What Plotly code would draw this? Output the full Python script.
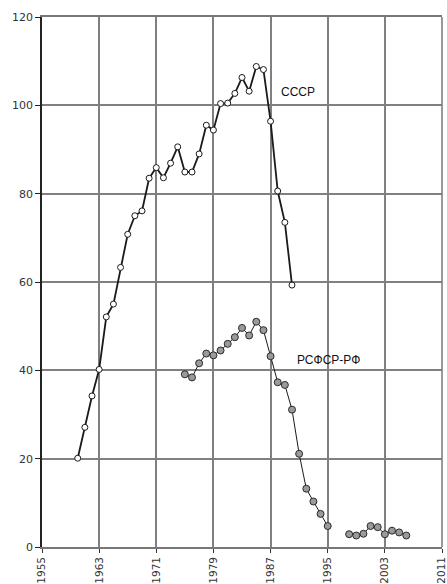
import plotly.graph_objects as go

years_ussr = list(range(1960, 1991))
ussr = [20.1, 27.1, 34.2, 40.2, 52.1, 55.0, 63.3, 70.8, 75.0, 76.1, 83.5, 85.9, 83.6, 86.9,
        90.6, 84.9, 84.9, 89.0, 95.5, 94.4, 100.4, 100.5, 102.7, 106.3, 103.2, 108.8,
        108.1, 96.4, 80.6, 73.5, 59.3]

years_rf = list(range(1975, 2007))
rf = [39.1, 38.4, 41.6, 43.8, 43.4, 44.5, 46.0, 47.5, 49.6, 47.9, 51.0, 49.1, 43.2, 37.3,
      36.7, 31.1, 21.1, 13.2, 10.3, 7.5, 4.75, None, None, 2.9, 2.6, 3.0, 4.75, 4.5,
      2.9, 3.7, 3.3, 2.6]

x_ticks = [1955, 1963, 1971, 1979, 1987, 1995, 2003, 2011]
y_ticks = [0, 20, 40, 60, 80, 100, 120]

fig = go.Figure()
fig.add_trace(go.Scatter(
    x=years_ussr, y=ussr, mode="lines+markers",
    line=dict(color="#1a1a1a", width=1.8),
    marker=dict(symbol="circle", size=6, color="white", line=dict(color="#1a1a1a", width=1)),
    showlegend=False, cliponaxis=False))
fig.add_trace(go.Scatter(
    x=years_rf, y=rf, mode="lines+markers", connectgaps=False,
    line=dict(color="#1a1a1a", width=1),
    marker=dict(symbol="circle", size=7, color="#9a9a9a", line=dict(color="#2a2a2a", width=1)),
    showlegend=False, cliponaxis=False))

fig.add_annotation(x=1990.8, y=103, text="СССР", showarrow=False,
                   font=dict(family="Liberation Sans, Arial", size=12, color="#111"))
fig.add_annotation(x=1995.1, y=42.3, text="РСФСР-РФ", showarrow=False,
                   font=dict(family="Liberation Sans, Arial", size=12, color="#111"))

fig.update_layout(
    width=447, height=584,
    margin=dict(l=42, r=5, t=17, b=37, autoexpand=False),
    paper_bgcolor="white", plot_bgcolor="white",
    font=dict(family="DejaVu Sans, Verdana", size=11, color="#333"),
)
fig.update_xaxes(
    range=[1955, 2011], tickvals=x_ticks, ticktext=[str(v) for v in x_ticks],
    tickangle=-90, showgrid=True, gridcolor="#808080", gridwidth=1.6,
    showline=True, linecolor="#777", linewidth=1.5, mirror=True,
    ticks="outside", ticklen=4, tickcolor="#333", zeroline=False, automargin=False,
    ticklabeloverflow="allow",
    tickfont=dict(size=10.5, color="#333"))
fig.update_yaxes(
    range=[0, 120], tickvals=y_ticks, showgrid=True, gridcolor="#808080", gridwidth=1.6,
    showline=True, linecolor="#222", linewidth=1.5, mirror=False,
    ticks="outside", ticklen=5, tickcolor="#222", zeroline=False, automargin=False,
    ticklabeloverflow="allow",
    tickfont=dict(size=11, color="#333"))
fig.add_shape(type="line", xref="paper", yref="paper", x0=1, y0=0, x1=1, y1=1,
              line=dict(color="#777", width=1.5))

fig.write_html("out.html", config={"displayModeBar": False},
               post_script="document.body.style.margin='0';document.body.style.overflow='hidden';")
